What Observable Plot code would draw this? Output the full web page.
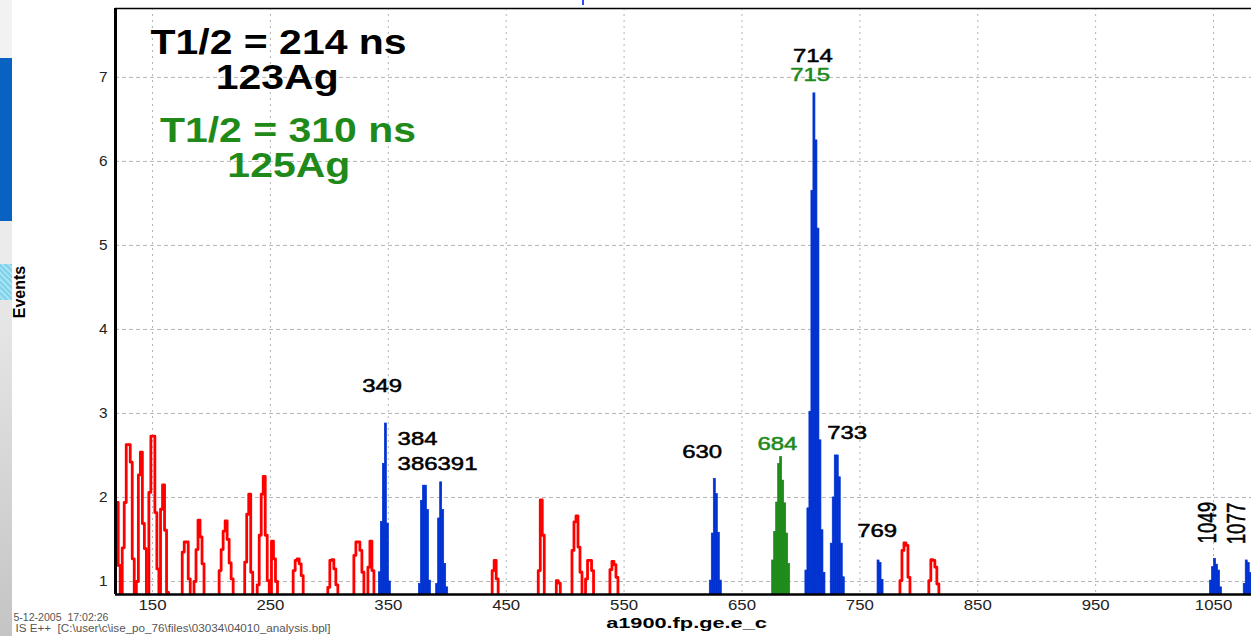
<!DOCTYPE html>
<html>
<head>
<meta charset="utf-8">
<script src="https://cdn.jsdelivr.net/npm/d3@7"></script>
<script src="https://cdn.jsdelivr.net/npm/@observablehq/plot@0.6"></script>
<style>
  html, body { margin: 0; padding: 0; background: #fff; overflow: hidden; width: 1251px; height: 636px; }
  #wrap { position: relative; width: 1251px; height: 636px; }
  #strip { position: absolute; left: 0; top: 0; width: 12px; height: 636px;
    background: linear-gradient(#ececec, #e6e6e6 50%, #c4c4c4); }
  #strip .a { position: absolute; left: 0; width: 12px; }
  #mark { position: absolute; left: 582px; top: 0; width: 2px; height: 5px; background: #2a4cff; }
</style>
</head>
<body>
<div id="wrap">
  <div id="chart"></div>
  <div id="strip">
    <div class="a" style="top:0;height:58px;background:#f2f2f2"></div>
    <div class="a" style="top:58px;height:163px;background:#0862c2"></div>
    <div class="a" style="top:221px;height:43px;background:#ebebeb"></div>
    <div class="a" style="top:264px;height:36px;background:repeating-linear-gradient(45deg,#7fd2ea 0 2px,#a6e2f2 2px 4px)"></div>
  </div>
  <div id="mark"></div>
</div>
<script>
// ---------- data ----------
const binWidth = 1.7; // keV per histogram bin

// red (outlined) background peaks: bin start energy + bin heights
const redStarts = [117.5, 124.3, 136.3, 146.9, 156.8, 175.2, 185.2, 206.5, 228.2, 238.8, 250.9, 269.3, 298.7,
                   320.8, 332.7, 438.1, 477.2, 492.5, 505.8, 517.3, 538.0, 784.0, 808.5];
const redHeights = [
  [1.94, 1.94, 1.19],
  [1.40, 1.94, 2.63, 2.63, 2.42, 1.27],
  [1.00, 2.27, 2.54, 1.69, 1.39],
  [2.06, 2.73, 2.73, 1.82, 1.15],
  [1.86, 2.15, 1.61, 0.87],
  [1.35, 1.47, 1.47, 1.03],
  [1.00, 1.38, 1.73, 1.53, 1.21],
  [1.13, 1.38, 1.60, 1.72, 1.50, 1.22, 1.03],
  [1.23, 1.80, 2.04, 1.11],
  [0.96, 1.55, 2.04, 2.25, 1.55, 1.01],
  [1.48, 1.27, 1.00],
  [1.13, 1.25, 1.27, 1.21, 1.07],
  [0.93, 1.25, 1.26, 1.15, 0.96],
  [1.31, 1.47, 1.47, 1.37, 1.11],
  [1.17, 1.48, 1.13],
  [1.13, 1.25, 1.03],
  [1.13, 1.97, 1.55],
  [1.01, 0.98],
  [1.37, 1.71, 1.78, 1.41, 1.11],
  [1.03, 1.25, 1.25, 1.13],
  [1.14, 1.24, 1.20, 1.05],
  [1.01, 1.37, 1.46, 1.43, 1.05],
  [1.01, 1.26, 1.25, 1.17, 0.97]
];

// blue (filled) 123Ag peaks
const blueStarts = [342.0, 376.0, 390.6, 622.7, 703.8, 725.3, 765.0, 1047.0, 1075.6];
const blueHeights = [
  [1.11, 1.71, 2.40, 2.88, 1.69, 1.00],
  [0.97, 1.96, 2.14, 2.14, 1.85, 1.01],
  [0.97, 1.75, 2.18, 1.85, 1.21, 0.93],
  [1.01, 1.57, 2.22, 2.04, 1.58, 1.01],
  [1.13, 1.87, 3.02, 5.65, 6.81, 6.25, 5.20, 2.68, 1.61, 1.10],
  [1.45, 2.00, 2.50, 2.50, 2.24, 1.45, 1.05],
  [1.25, 1.22, 1.02],
  [1.01, 1.17, 1.27, 1.20, 1.13, 0.93],
  [0.97, 1.25, 1.22, 1.10, 0.95]
];

// green (filled) 125Ag peak
const greenStarts = [675.6];
const greenHeights = [[1.25, 1.59, 1.94, 2.40, 2.48, 2.20, 1.93, 1.57, 1.21]];

// axes
const xMin = 118.6, xMax = 1082.2;
const yMin = 0.845, yMax = 7.82;
const xTicks = [150, 250, 350, 450, 550, 650, 750, 850, 950, 1050];
const yTicks = [1, 2, 3, 4, 5, 6, 7];
const xTitle = "a1900.fp.ge.e_c";
const yTitle = "Events";

// peak labels (energy, counts)
const blackLabels = ["349", "384", "386", "391", "630", "714", "733", "769"];
const blackLabelE = [344.8, 374.8, 374.8, 408.7, 616.2, 710.2, 739.2, 764.7];
const blackLabelV = [3.32, 2.69, 2.39, 2.39, 2.54, 7.25, 2.76, 1.60];
const greenLabels = ["684", "715"];
const greenLabelE = [680.1, 707.8];
const greenLabelV = [2.63, 7.03];
const rotLabels = ["1049", "1077"];
const rotLabelE = [1045.7, 1070.0];
const rotLabelV = [1.70, 1.69];

// half-life annotations
const blackNotes = ["T1/2 = 214 ns", "123Ag"];
const blackNoteE = [256.9, 255.8];
const blackNoteV = [7.41, 7.00];
const greenNotes = ["T1/2 = 310 ns", "125Ag"];
const greenNoteE = [264.9, 265.6];
const greenNoteV = [6.36, 5.95];

const footerLines = ["5-12-2005  17:02:26", "IS E++  [C:\\user\\c\\ise_po_76\\files\\03034\\04010_analysis.bpl]"];

// ---------- build histogram shapes ----------
function steps(starts, heights, tag) {
  const pts = [];
  starts.forEach((s, i) => {
    const h = heights[i];
    pts.push({e: s, v: 0, g: tag + i});
    h.forEach((v, j) => {
      pts.push({e: s + j * binWidth, v, g: tag + i});
      pts.push({e: s + (j + 1) * binWidth, v, g: tag + i});
    });
    pts.push({e: s + h.length * binWidth, v: 0, g: tag + i});
  });
  return pts;
}
function bins(starts, heights) {
  const out = [];
  starts.forEach((s, i) => heights[i].forEach((v, j) =>
    out.push({x1: s + j * binWidth, x2: s + (j + 1) * binWidth, v})));
  return out;
}
const redPts = steps(redStarts, redHeights, "r");
const blueBins = bins(blueStarts, blueHeights);
const greenBins = bins(greenStarts, greenHeights);

const rows = (t, e, v) => t.map((d, i) => ({t: d, e: e[i], v: v[i]}));

const FONT = "'Liberation Sans', Arial, Helvetica, sans-serif";
const GREEN = "#1f8a1a";
const BLUE = "#0032d2";

const svg = Plot.plot({
  width: 1251, height: 636,
  marginLeft: 115, marginRight: 0, marginTop: 8, marginBottom: 42,
  style: {fontFamily: FONT, fontSize: "14px", color: "#222", background: "#fff"},
  x: {domain: [xMin, xMax], ticks: xTicks, tickSize: 0, tickPadding: 6, label: null, tickFormat: d => String(d)},
  y: {domain: [yMin, yMax], ticks: yTicks, tickSize: 0, tickPadding: 8, label: null, tickFormat: d => String(d)},
  marks: [
    Plot.ruleY(yTicks, {stroke: "#b4b4b4", strokeDasharray: "4,3", strokeWidth: 1}),
    Plot.ruleX(xTicks, {stroke: "#b4b4b4", strokeDasharray: "2,4", strokeWidth: 1}),
    Plot.line(redPts, {x: "e", y: "v", z: "g", stroke: "#ff0000", strokeWidth: 2.8, clip: true}),
    Plot.rect(blueBins, {x1: "x1", x2: "x2", y1: 0, y2: "v", fill: BLUE, stroke: BLUE, strokeWidth: 0.7, clip: true}),
    Plot.rect(greenBins, {x1: "x1", x2: "x2", y1: 0, y2: "v", fill: GREEN, stroke: GREEN, strokeWidth: 0.7, clip: true}),
    Plot.ruleX([xMin], {stroke: "#000", strokeWidth: 3}),
    Plot.ruleY([yMin], {stroke: "#000", strokeWidth: 2.5}),
    Plot.ruleY([yMax], {stroke: "#000", strokeWidth: 1.5}),
    Plot.text(rows(blackNotes, blackNoteE, blackNoteV), {x: "e", y: "v", text: "t", fill: "#000", fontSize: 35, fontWeight: "bold"}),
    Plot.text(rows(greenNotes, greenNoteE, greenNoteV), {x: "e", y: "v", text: "t", fill: GREEN, fontSize: 35, fontWeight: "bold"}),
    Plot.text(rows(blackLabels, blackLabelE, blackLabelV), {x: "e", y: "v", text: "t", fill: "#000", stroke: "#000", strokeWidth: 0.5, fontSize: 18}),
    Plot.text(rows(greenLabels, greenLabelE, greenLabelV), {x: "e", y: "v", text: "t", fill: GREEN, stroke: GREEN, strokeWidth: 0.5, fontSize: 18}),
    Plot.text(rows(rotLabels, rotLabelE, rotLabelV), {x: "e", y: "v", text: "t", fill: "#000", stroke: "#000", strokeWidth: 0.4, fontSize: 18.7, rotate: -90}),
    Plot.text([xTitle], {frameAnchor: "bottom", textAnchor: "middle", dx: 3, dy: 33, fill: "#000", fontSize: 15, fontWeight: "bold"}),
    Plot.text([yTitle], {frameAnchor: "left", textAnchor: "middle", dx: -96, dy: -9.5, rotate: -90, fill: "#000", fontSize: 16, fontWeight: "bold"}),
    Plot.text([footerLines[0]], {frameAnchor: "bottom-left", dx: -102, dy: 26, textAnchor: "start", fill: "#555", fontSize: 10}),
    Plot.text([footerLines[1]], {frameAnchor: "bottom-left", dx: -100, dy: 37.5, textAnchor: "start", fill: "#555", fontSize: 10})
  ]
});
document.getElementById("chart").appendChild(svg);

// horizontal stretch of the texts (the reference is a horizontally stretched screenshot)
const spec = new Map();
blackNotes.concat(greenNotes).forEach(t => spec.set(t, {sx: 1.17}));
blackLabels.concat(greenLabels).forEach(t => spec.set(t, {sx: 1.33}));
rotLabels.forEach(t => spec.set(t, {sx: 1, sy: 1.33}));
spec.set(xTitle, {sx: 1.45});
xTicks.forEach(t => spec.set(String(t), {sx: 1.2}));
yTicks.forEach(t => spec.set(String(t), {sx: 1.1}));
spec.set(footerLines[0], {w: 95});
spec.set(footerLines[1], {w: 315});

svg.querySelectorAll("text").forEach(t => {
  const s = spec.get(t.textContent.trim());
  if (!s) return;
  const w0 = t.getComputedTextLength();
  const sx = s.w ? s.w / w0 : s.sx;
  const sy = s.sy || 1;
  const tr = t.getAttribute("transform");
  if (tr) {
    t.setAttribute("transform", tr + ` scale(${sx},${sy})`);
  } else {
    const x = +(t.getAttribute("x") || 0), y = +(t.getAttribute("y") || 0);
    t.setAttribute("transform", `translate(${x},${y}) scale(${sx},${sy}) translate(${-x},${-y})`);
  }
});
</script>
</body>
</html>
